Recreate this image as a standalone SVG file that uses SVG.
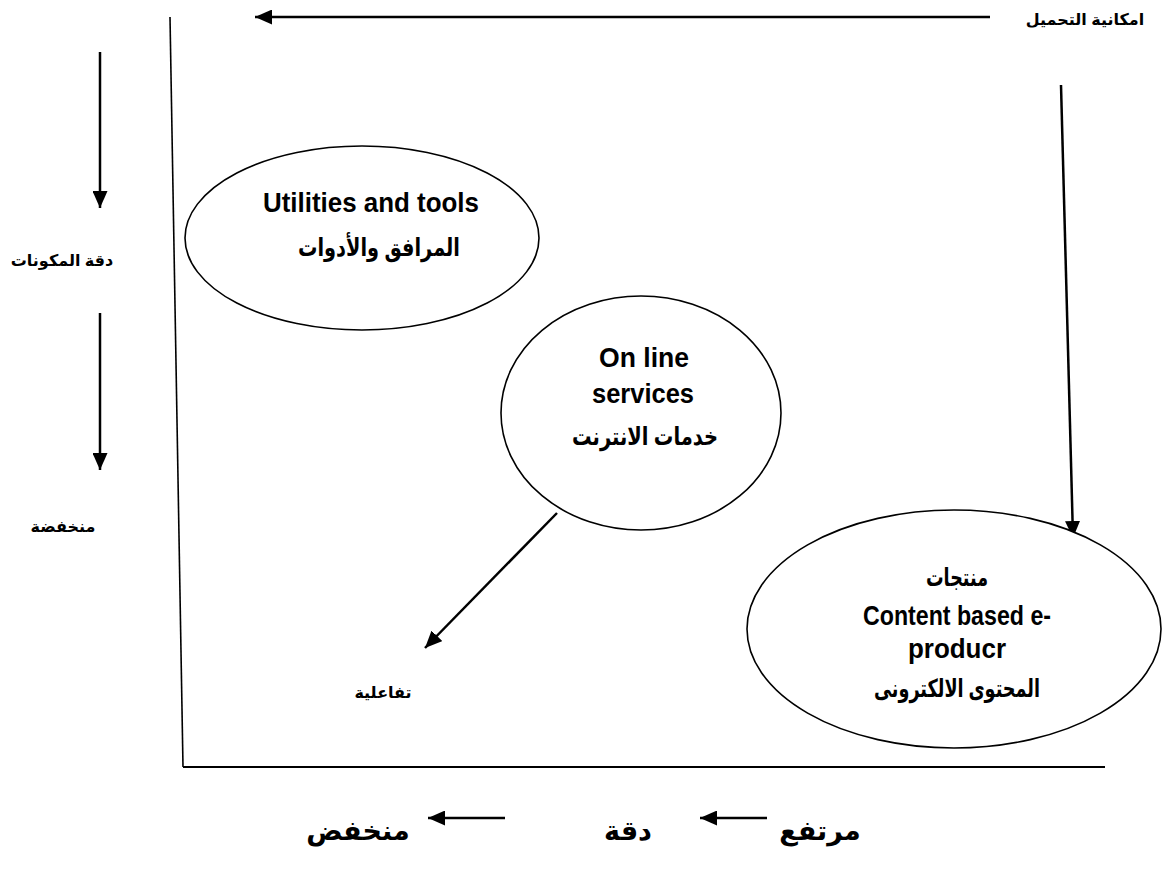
<svg xmlns="http://www.w3.org/2000/svg" width="1162" height="872" viewBox="0 0 1162 872">
<style>
.bg{fill:#ffffff}
.node{fill:#ffffff;stroke:#000;stroke-width:1.6}
.axis{stroke:#000;fill:none}
.arr{stroke:#000;stroke-width:2.5;fill:none;marker-end:url(#ah)}
.en{font-family:"Liberation Sans",Arial,sans-serif;font-weight:bold;font-size:27px;fill:#000;text-anchor:middle}
.ar{font-family:"Liberation Sans","DejaVu Sans",sans-serif;font-weight:bold;font-size:25px;fill:#000;text-anchor:middle}
.sm{font-family:"Liberation Sans","DejaVu Sans",sans-serif;font-weight:bold;font-size:16px;fill:#000;text-anchor:middle}
.big{font-family:"Liberation Sans","DejaVu Sans",sans-serif;font-weight:bold;font-size:27px;fill:#000;text-anchor:middle}
</style>
<defs>
<marker id="ah" markerWidth="17" markerHeight="15" refX="17" refY="7.5" orient="auto" markerUnits="userSpaceOnUse">
<path d="M0,0 L17,7.5 L0,15 z" fill="#000"/>
</marker>
</defs>
<rect class="bg" x="0" y="0" width="1162" height="872"/>

<g id="connectors">
<line class="axis" x1="170" y1="17" x2="183" y2="767" stroke-width="1.6"/>
<line class="axis" x1="183" y1="767" x2="1105" y2="767" stroke-width="2.2"/>
<line class="arr" x1="990" y1="17" x2="255" y2="17"/>
<line class="arr" x1="100" y1="52" x2="100" y2="208"/>
<line class="arr" x1="100" y1="313" x2="100" y2="470"/>
<line class="arr" x1="1061" y1="85" x2="1073" y2="538"/>
<line class="arr" x1="557" y1="513" x2="425" y2="648"/>
<line class="arr" x1="505" y1="818" x2="428" y2="818"/>
<line class="arr" x1="767" y1="818" x2="700" y2="818"/>
</g>

<g id="node-utilities">
<ellipse class="node" cx="362" cy="238" rx="177" ry="92"/>
<text class="en" x="371" y="212" textLength="216" lengthAdjust="spacingAndGlyphs">Utilities and tools</text>
<text class="ar" x="379" y="256" textLength="162" lengthAdjust="spacingAndGlyphs">المرافق والأدوات</text>
</g>

<g id="node-online">
<ellipse class="node" cx="641" cy="413" rx="140" ry="117"/>
<text class="en" x="644" y="367" textLength="90" lengthAdjust="spacingAndGlyphs">On line</text>
<text class="en" x="643" y="403" textLength="102" lengthAdjust="spacingAndGlyphs">services</text>
<text class="ar" x="645" y="445" textLength="146" lengthAdjust="spacingAndGlyphs">خدمات الانترنت</text>
</g>

<g id="node-content">
<ellipse class="node" cx="954" cy="629" rx="207" ry="119"/>
<text class="ar" x="957" y="586" textLength="62" lengthAdjust="spacingAndGlyphs">منتجات</text>
<text class="en" x="957" y="625" textLength="188" lengthAdjust="spacingAndGlyphs">Content based e-</text>
<text class="en" x="957" y="658" textLength="98" lengthAdjust="spacingAndGlyphs">producr</text>
<text class="ar" x="957" y="697" textLength="166" lengthAdjust="spacingAndGlyphs">المحتوى الالكترونى</text>
</g>

<g id="labels">
<text class="sm" x="1085" y="25">امكانية التحميل</text>
<text class="sm" x="62" y="266">دقة المكونات</text>
<text class="sm" x="63" y="532">منخفضة</text>
<text class="sm" x="383" y="698">تفاعلية</text>
<text class="big" x="358" y="840">منخفض</text>
<text class="big" x="628" y="840">دقة</text>
<text class="big" x="820" y="840">مرتفع</text>
</g>
</svg>
